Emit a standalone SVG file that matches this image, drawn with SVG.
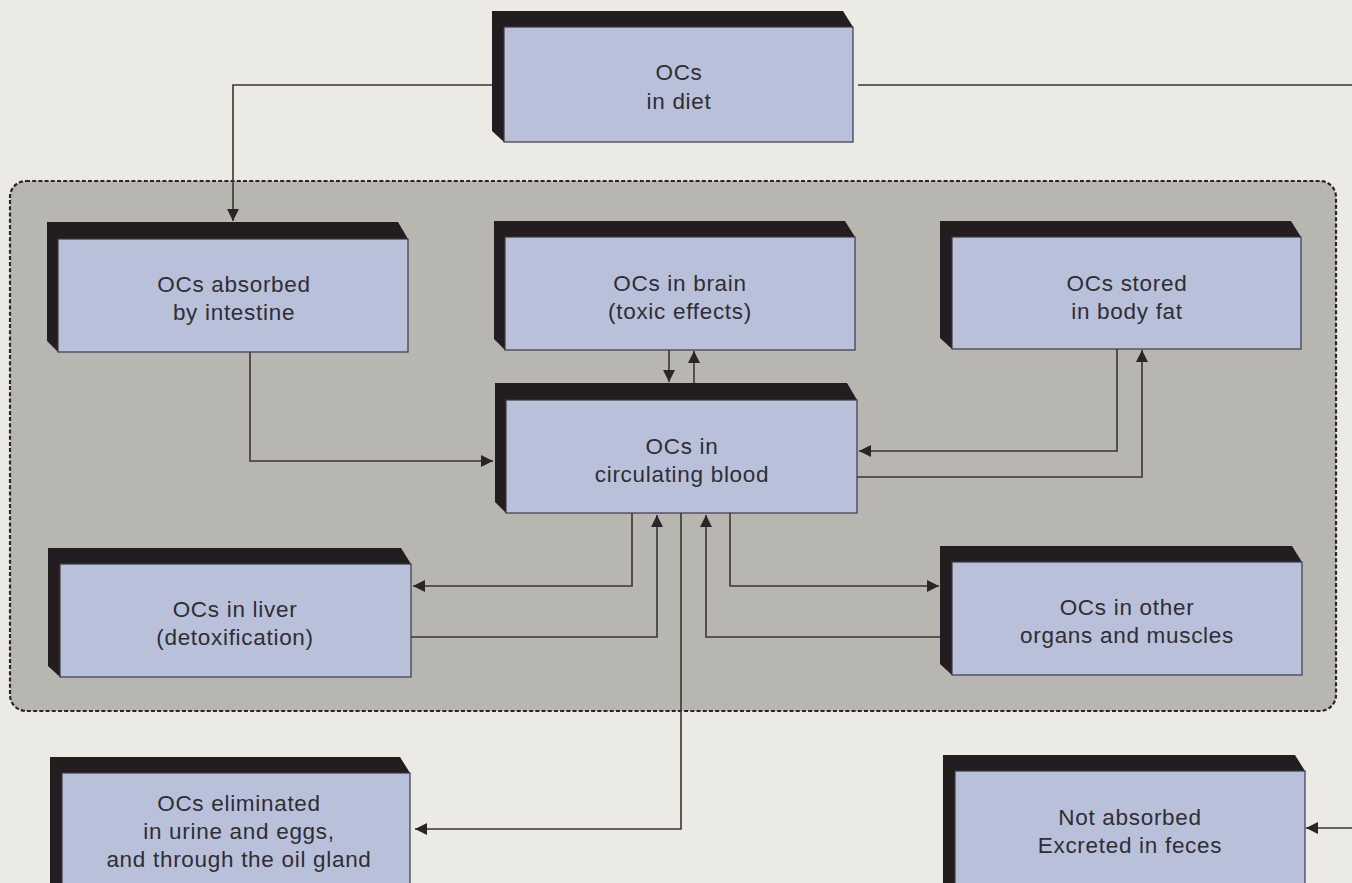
<svg xmlns="http://www.w3.org/2000/svg" width="1352" height="883" viewBox="0 0 1352 883">
<style>
.bg{fill:#eceae4}
.zone{fill:#b8b6b1;stroke:#2a2628;stroke-width:2.2;stroke-dasharray:4 2.2}
.side{fill:#221d1f}
.face{fill:#b9c1da;stroke:#3a3a44;stroke-width:1.2}
.t{font-family:"Liberation Sans",Arial,sans-serif;font-size:22.5px;letter-spacing:0.7px;fill:#2e2e33;text-anchor:middle}
.c{fill:none;stroke:#3a3638;stroke-width:1.6}
</style>
<defs>
<marker id="ah" viewBox="0 0 10 10" refX="10" refY="5" markerWidth="12" markerHeight="12" markerUnits="userSpaceOnUse" orient="auto">
<path d="M0,0 L10,5 L0,10 z" fill="#2a2628"/>
</marker>
</defs>
<rect class="bg" x="0" y="0" width="1352" height="883"/>
<rect class="zone" x="10" y="181" width="1326" height="530" rx="16" ry="16"/>

<g id="connectors">
<path class="c" d="M492,85 H233 V221" marker-end="url(#ah)"/>
<path class="c" d="M858,85 H1352"/>
<path class="c" d="M1352,828 H1306" marker-end="url(#ah)"/>
<path class="c" d="M250,352 V461 H493" marker-end="url(#ah)"/>
<path class="c" d="M669,350 V382" marker-end="url(#ah)"/>
<path class="c" d="M694,383 V351" marker-end="url(#ah)"/>
<path class="c" d="M1117,349 V451 H859" marker-end="url(#ah)"/>
<path class="c" d="M857,477 H1142 V350" marker-end="url(#ah)"/>
<path class="c" d="M632,513 V586 H413" marker-end="url(#ah)"/>
<path class="c" d="M411,637 H657 V515" marker-end="url(#ah)"/>
<path class="c" d="M681,513 V829 H415" marker-end="url(#ah)"/>
<path class="c" d="M952,637 H706 V515" marker-end="url(#ah)"/>
<path class="c" d="M730,513 V586 H939" marker-end="url(#ah)"/>
</g>

<g id="n-diet">
<polygon class="side" points="492,11 843,11 853,27 853,142 504,142 492,131"/>
<rect class="face" x="504" y="27" width="349" height="115"/>
<text class="t" x="679" y="80">OCs</text>
<text class="t" x="679" y="109">in diet</text>
</g>

<g id="n-intestine">
<polygon class="side" points="47,222 398,222 408,239 408,352 58,352 47,341"/>
<rect class="face" x="58" y="239" width="350" height="113"/>
<text class="t" x="234" y="292">OCs absorbed</text>
<text class="t" x="234" y="320">by intestine</text>
</g>

<g id="n-brain">
<polygon class="side" points="494,221 845,221 855,237 855,350 505,350 494,339"/>
<rect class="face" x="505" y="237" width="350" height="113"/>
<text class="t" x="680" y="291">OCs in brain</text>
<text class="t" x="680" y="319">(toxic effects)</text>
</g>

<g id="n-fat">
<polygon class="side" points="940,221 1291,221 1301,237 1301,349 952,349 940,338"/>
<rect class="face" x="952" y="237" width="349" height="112"/>
<text class="t" x="1127" y="291">OCs stored</text>
<text class="t" x="1127" y="319">in body fat</text>
</g>

<g id="n-blood">
<polygon class="side" points="495,383 847,383 857,400 857,513 506,513 495,502"/>
<rect class="face" x="506" y="400" width="351" height="113"/>
<text class="t" x="682" y="454">OCs in</text>
<text class="t" x="682" y="482">circulating blood</text>
</g>

<g id="n-liver">
<polygon class="side" points="48,548 401,548 411,564 411,677 60,677 48,666"/>
<rect class="face" x="60" y="564" width="351" height="113"/>
<text class="t" x="235" y="617">OCs in liver</text>
<text class="t" x="235" y="645">(detoxification)</text>
</g>

<g id="n-other">
<polygon class="side" points="940,546 1292,546 1302,562 1302,675 952,675 940,664"/>
<rect class="face" x="952" y="562" width="350" height="113"/>
<text class="t" x="1127" y="615">OCs in other</text>
<text class="t" x="1127" y="643">organs and muscles</text>
</g>

<g id="n-eliminated">
<polygon class="side" points="50,757 400,757 410,773 410,900 62,900 50,889"/>
<rect class="face" x="62" y="773" width="348" height="127"/>
<text class="t" x="239" y="811">OCs eliminated</text>
<text class="t" x="239" y="839">in urine and eggs,</text>
<text class="t" x="239" y="867">and through the oil gland</text>
</g>

<g id="n-notabsorbed">
<polygon class="side" points="943,755 1295,755 1305,771 1305,900 955,900 943,889"/>
<rect class="face" x="955" y="771" width="350" height="129"/>
<text class="t" x="1130" y="825">Not absorbed</text>
<text class="t" x="1130" y="853">Excreted in feces</text>
</g>
</svg>
